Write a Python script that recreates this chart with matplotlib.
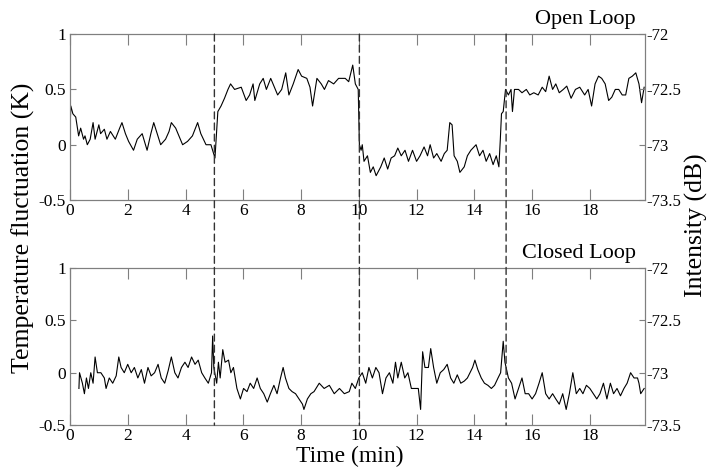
"""Open loop vs closed loop temperature fluctuation traces."""
import matplotlib
matplotlib.use("Agg")
import matplotlib.pyplot as plt
from matplotlib.patches import ConnectionPatch

plt.rcParams['font.family'] = ['Liberation Serif', 'DejaVu Serif']
plt.rcParams['axes.unicode_minus'] = False

# open loop trace (time in min, temperature fluctuation in K)
t_open = [0.0, 0.03, 0.1, 0.2, 0.3, 0.37, 0.47, 0.52, 0.6, 0.7, 0.8, 0.87, 1.0, 1.06,
          1.19, 1.28, 1.4, 1.57, 1.72, 1.8, 1.92, 2.03, 2.2, 2.33, 2.5, 2.67, 2.8, 2.9,
          3.02, 3.14, 3.31, 3.43, 3.51, 3.66, 3.9, 4.07, 4.24, 4.42, 4.53, 4.71, 4.88,
          5.02, 5.12, 5.23, 5.35, 5.47, 5.56, 5.7, 5.93, 6.1, 6.22, 6.34, 6.4, 6.57,
          6.69, 6.8, 6.95, 7.03, 7.19, 7.33, 7.47, 7.58, 7.73, 7.9, 8.02, 8.2, 8.31,
          8.4, 8.55, 8.7, 8.81, 8.95, 9.13, 9.3, 9.53, 9.65, 9.79, 9.88, 9.98,
          10.02, 10.08, 10.12, 10.18, 10.3, 10.4, 10.5, 10.6, 10.76, 10.88, 11.0,
          11.12, 11.24, 11.35, 11.47, 11.6, 11.72, 11.86, 12.0, 12.12, 12.26, 12.38,
          12.47, 12.59, 12.7, 12.85, 12.96, 13.06, 13.15, 13.23, 13.3, 13.41, 13.5,
          13.65, 13.76, 13.88, 14.06, 14.18, 14.3, 14.41, 14.53, 14.65, 14.76, 14.85,
          14.9, 14.94, 15.0, 15.08, 15.18, 15.27, 15.32, 15.39, 15.53, 15.65, 15.8,
          15.92, 16.06, 16.21, 16.35, 16.47, 16.59, 16.71, 16.82, 16.94, 17.08, 17.2,
          17.35, 17.5, 17.65, 17.82, 17.94, 18.06, 18.18, 18.3, 18.41, 18.53, 18.65,
          18.76, 18.88, 19.0, 19.12, 19.24, 19.35, 19.47, 19.59, 19.7, 19.79, 19.88]
temp_open = [0.12, 0.35, 0.28, 0.25, 0.08, 0.15, 0.05, 0.08, 0.0, 0.05, 0.2, 0.05, 0.18, 0.1,
             0.14, 0.05, 0.12, 0.05, 0.15, 0.2, 0.1, 0.03, -0.05, 0.05, 0.1, -0.05, 0.1, 0.2,
             0.1, 0.0, 0.05, 0.12, 0.2, 0.15, 0.0, 0.03, 0.08, 0.2, 0.1, 0.0, 0.0,
             -0.12, 0.3, 0.35, 0.42, 0.5, 0.55, 0.5, 0.52, 0.4, 0.45, 0.55, 0.4, 0.55,
             0.6, 0.5, 0.6, 0.55, 0.45, 0.5, 0.65, 0.45, 0.55, 0.68, 0.62, 0.6, 0.52,
             0.35, 0.6, 0.55, 0.5, 0.58, 0.55, 0.6, 0.6, 0.57, 0.72, 0.55, 0.5,
             0.0, -0.05, 0.0, -0.15, -0.1, -0.25, -0.2, -0.28, -0.2, -0.12, -0.22,
             -0.12, -0.1, -0.03, -0.1, -0.05, -0.15, -0.05, -0.15, -0.1, -0.02, -0.1,
             0.0, -0.12, -0.08, -0.15, -0.08, -0.05, 0.2, 0.18, -0.1, -0.15, -0.25,
             -0.2, -0.1, -0.05, 0.0, -0.1, -0.05, -0.15, -0.08, -0.18, -0.1, -0.2,
             0.05, 0.28, 0.3, 0.5, 0.45, 0.5, 0.3, 0.5, 0.5, 0.47, 0.5,
             0.45, 0.47, 0.45, 0.52, 0.48, 0.62, 0.5, 0.55, 0.47, 0.5, 0.53,
             0.42, 0.5, 0.52, 0.45, 0.5, 0.35, 0.55, 0.62, 0.6, 0.55, 0.4,
             0.43, 0.5, 0.5, 0.45, 0.45, 0.6, 0.62, 0.65, 0.55, 0.38, 0.52]

# closed loop trace
t_closed = [0.31, 0.33, 0.43, 0.5, 0.57, 0.64, 0.72, 0.8, 0.87, 0.95, 1.07, 1.19, 1.25,
            1.36, 1.48, 1.6, 1.69, 1.77, 1.88, 2.0, 2.12, 2.23, 2.35, 2.47, 2.58, 2.7,
            2.81, 2.93, 3.05, 3.16, 3.28, 3.4, 3.51, 3.63, 3.74, 3.86, 3.98, 4.09, 4.21,
            4.33, 4.44, 4.56, 4.67, 4.79, 4.9, 4.94, 4.98, 5.08, 5.14, 5.2, 5.29, 5.37,
            5.49, 5.57, 5.66, 5.78, 5.9, 6.01, 6.13, 6.24, 6.36, 6.48, 6.59, 6.71, 6.83,
            6.94, 7.06, 7.17, 7.29, 7.38, 7.46, 7.58, 7.69, 7.81, 7.93, 8.05, 8.1, 8.22,
            8.34, 8.45, 8.63, 8.8, 8.98, 9.15, 9.33, 9.5, 9.67, 9.76, 9.88, 10.0, 10.12,
            10.24, 10.35, 10.47, 10.59, 10.7, 10.82, 10.94, 11.06, 11.18, 11.27, 11.35,
            11.47, 11.59, 11.7, 11.82, 11.94, 12.06, 12.14, 12.21, 12.29, 12.41, 12.49,
            12.59, 12.7, 12.82, 12.94, 13.06, 13.18, 13.29, 13.41, 13.53, 13.65, 13.76,
            13.94, 14.02, 14.12, 14.24, 14.35, 14.47, 14.59, 14.7, 14.82, 14.91, 15.0,
            15.06, 15.18, 15.29, 15.41, 15.53, 15.65, 15.76, 15.88, 16.0, 16.12, 16.24,
            16.35, 16.47, 16.59, 16.71, 16.82, 16.94, 17.06, 17.18, 17.29, 17.41, 17.53,
            17.65, 17.76, 17.88, 18.0, 18.12, 18.24, 18.35, 18.47, 18.59, 18.71, 18.82,
            18.94, 19.06, 19.18, 19.29, 19.41, 19.53, 19.65, 19.7, 19.76, 19.88]
temp_closed = [-0.15, 0.0, -0.1, -0.2, -0.05, -0.15, 0.0, -0.1, 0.15, 0.0, 0.0, -0.05, -0.15,
               -0.05, -0.1, -0.03, 0.15, 0.05, 0.0, 0.08, 0.0, 0.05, -0.05, 0.03, -0.1, 0.05,
               -0.03, 0.0, 0.08, -0.05, -0.1, 0.02, 0.15, 0.0, -0.05, 0.05, 0.1, 0.05, 0.15,
               0.08, 0.12, 0.0, -0.05, -0.1, 0.0, 0.35, 0.05, -0.1, 0.1, -0.05, 0.22, 0.1,
               0.12, 0.0, 0.05, -0.15, -0.25, -0.15, -0.18, -0.1, -0.15, -0.05, -0.15, -0.2, -0.28,
               -0.2, -0.12, -0.2, -0.05, 0.05, -0.05, -0.15, -0.18, -0.2, -0.25, -0.3, -0.35, -0.25,
               -0.2, -0.18, -0.1, -0.15, -0.12, -0.2, -0.15, -0.2, -0.18, -0.1, -0.15, -0.05, 0.0,
               -0.1, 0.05, -0.05, 0.05, 0.0, -0.2, -0.05, 0.0, -0.1, 0.1, -0.05,
               0.1, -0.05, 0.0, -0.15, -0.15, -0.15, -0.35, 0.2, 0.05, 0.05, 0.23,
               0.05, -0.1, 0.0, 0.03, 0.08, -0.05, -0.1, -0.02, -0.1, -0.08, -0.05,
               0.05, 0.12, 0.03, -0.05, -0.1, -0.12, -0.15, -0.12, -0.05, 0.0, 0.3,
               0.1, -0.05, -0.1, -0.25, -0.15, -0.05, -0.2, -0.2, -0.25, -0.2, -0.1,
               0.0, -0.2, -0.25, -0.2, -0.25, -0.3, -0.2, -0.35, -0.2, 0.0, -0.2,
               -0.15, -0.2, -0.12, -0.15, -0.2, -0.25, -0.2, -0.1, -0.25, -0.1, -0.2,
               -0.15, -0.22, -0.15, -0.1, 0.0, -0.05, -0.05, -0.1, -0.2, -0.15]

switch_times = [5.0, 10.02, 15.1]
x_ticks = [0, 2, 4, 6, 8, 10, 12, 14, 16, 18]
y_ticks = [-0.5, 0, 0.5, 1]
y_labels = ['-0.5', '0', '0.5', '1']
db_ticks = [-73.5, -73, -72.5, -72]
db_labels = ['-73.5', '-73', '-72.5', '-72']

frame = '#7f7f7f'

fig = plt.figure(figsize=(7.14, 4.74), dpi=100)
ax1 = fig.add_axes([0.098, 0.578, 0.805, 0.350])
ax2 = fig.add_axes([0.098, 0.103, 0.805, 0.332])

panels = [(ax1, t_open, temp_open, 'Open Loop'),
          (ax2, t_closed, temp_closed, 'Closed Loop')]
for ax, tt, vv, title in panels:
    ax.plot(tt, vv, color='black', lw=0.8)
    ax.set_xlim(0, 19.9)
    ax.set_ylim(-0.5, 1)
    ax.set_xticks(x_ticks)
    ax.set_yticks(y_ticks)
    ax.set_yticklabels(y_labels)
    for s in ax.spines.values():
        s.set_color(frame)
    ax.tick_params(axis='x', direction='in', length=8, top=True, color=frame,
                   labelsize=12.5, pad=2)
    ax.tick_params(axis='y', direction='in', length=4, color=frame,
                   labelsize=12.5, pad=3)
    ax.text(0.985, 1.03, title, transform=ax.transAxes, ha='right', va='bottom',
            fontsize=16)
    axr = ax.twinx()
    axr.set_ylim(-73.5, -72)
    axr.set_yticks(db_ticks)
    axr.set_yticklabels(db_labels)
    for s in axr.spines.values():
        s.set_color(frame)
    axr.tick_params(axis='y', direction='in', length=4, color=frame,
                    labelsize=12, pad=1)

# dashed markers spanning both panels
for ts in switch_times:
    con = ConnectionPatch(xyA=(ts, 1), coordsA=ax1.transData,
                          xyB=(ts, -0.5), coordsB=ax2.transData,
                          color='#333333', lw=1.0, linestyle=(0, (5, 3)))
    fig.add_artist(con)

fig.text(0.032, 0.52, 'Temperature fluctuation (K)', rotation=90,
         ha='center', va='center', fontsize=18.5)
fig.text(0.975, 0.525, 'Intensity (dB)', rotation=90,
         ha='center', va='center', fontsize=18.5)
fig.text(0.49, 0.015, 'Time (min)', ha='center', va='bottom', fontsize=17)

fig.savefig('out.png', dpi=100)
